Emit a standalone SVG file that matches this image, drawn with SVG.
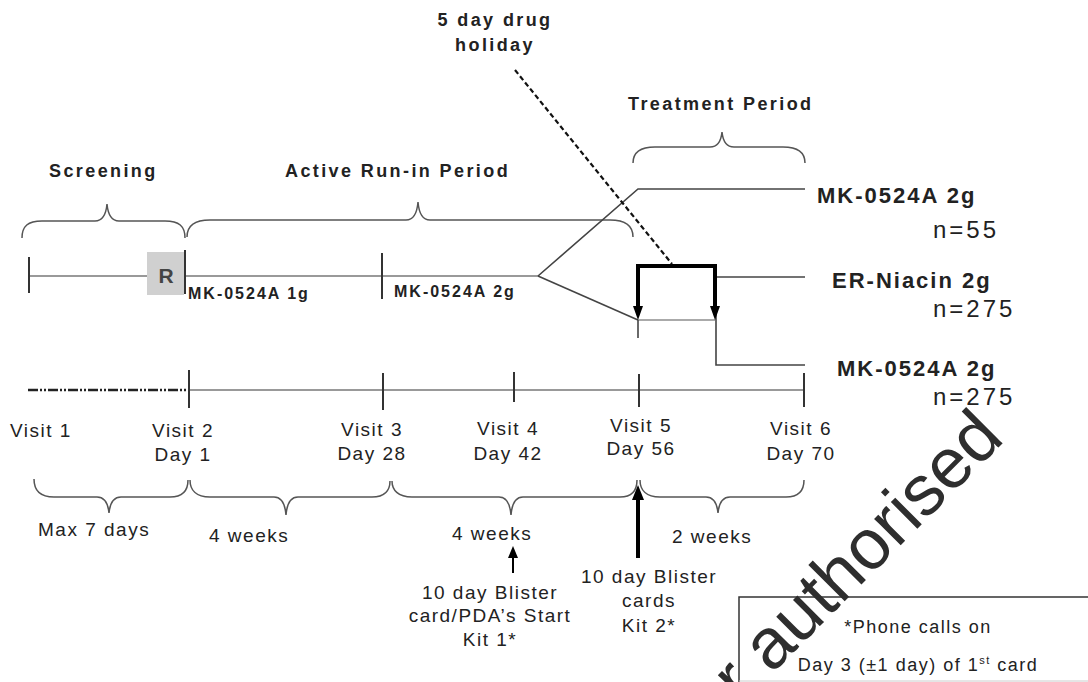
<svg xmlns="http://www.w3.org/2000/svg" width="1088" height="682" viewBox="0 0 1088 682">
<style>
text{font-family:"Liberation Sans",Arial,sans-serif;fill:#222}
.b{font-weight:bold;font-size:18px;letter-spacing:2.4px}
.bl{font-weight:bold;font-size:22px;letter-spacing:2px}
.sb{font-weight:bold;font-size:16px;letter-spacing:2px}
.n{font-size:24px;letter-spacing:3px}
.r{font-size:19px;letter-spacing:1.5px}
.c{text-anchor:middle}
.brace{fill:none;stroke:#555;stroke-width:1.5}
.tl{stroke:#999;stroke-width:2;fill:none}
.tk{stroke:#333;stroke-width:2;fill:none}
.ln{stroke:#444;stroke-width:1.6;fill:none}
.thick{stroke:#000;stroke-width:4;fill:none}
.ah{fill:#000}
.wm{font-size:71px;fill:#2e2e2e}
</style>
<rect width="1088" height="682" fill="#fff"/>

<g id="labels-top">
<text class="b c" x="495" y="26">5 day drug</text>
<text class="b c" x="495" y="51">holiday</text>
<text class="b" x="628" y="110">Treatment Period</text>
<text class="b" x="49" y="177">Screening</text>
<text class="b" x="285" y="177">Active Run-in Period</text>
</g>

<g id="braces">
<path class="brace" d="M22,238 C22,226 28,221 42,221 H95 C102,221 106,215 107,204 C108,215 112,221 119,221 H165 C179,221 185,226 185,238"/>
<path class="brace" d="M187,237 C187,226 195,220 210,220 H406 C413,220 417,214 418,202 C419,214 423,220 430,220 H610 C625,220 633,226 633,237"/>
<path class="brace" d="M633,163 C633,152 640,147 655,147 H710 C717,147 721,142 722,132 C723,142 727,147 734,147 H783 C798,147 805,152 805,163"/>
<path class="brace" d="M34,479 C34,490 40,497 54,497 H97 C104,497 108,503 109,513 C110,503 114,497 121,497 H170 C183,497 188,490 188,480"/>
<path class="brace" d="M190,480 C190,490 196,497 210,497 H274 C281,497 285,503 286,515 C287,503 291,497 298,497 H372 C385,497 390,490 390,481"/>
<path class="brace" d="M392,481 C392,490 398,497 412,497 H499 C506,497 510,503 511,515 C512,503 516,497 523,497 H620 C632,497 637,490 637,480"/>
<path class="brace" d="M640,480 C640,490 646,497 660,497 H706 C713,497 717,503 718,513 C719,503 723,497 730,497 H786 C799,497 804,490 804,480"/>
</g>

<g id="connectors">
<line class="tl" x1="28" y1="276" x2="538" y2="276"/>
<line class="tk" x1="29" y1="257" x2="29" y2="293"/>
<line class="tk" x1="382" y1="253" x2="382" y2="299"/>
<path class="ln" d="M538,276 L638,189 H805"/>
<path class="ln" d="M538,276 L638,320"/>
<line x1="638" y1="320" x2="715" y2="320" stroke="#aaa" stroke-width="2"/>
<line class="ln" x1="638" y1="320" x2="638" y2="338"/>
<path class="ln" d="M715,277 H805"/>
<path class="ln" d="M716,277 V365 H805"/>
<path class="thick" d="M638,308 V266 H715 V308"/>
<polygon class="ah" points="633,306 643,306 638,320"/>
<polygon class="ah" points="710,306 720,306 715,320"/>
<line x1="515" y1="70" x2="672" y2="264" stroke="#111" stroke-width="2.2" stroke-dasharray="5 3"/>
<line x1="28" y1="390" x2="187" y2="390" stroke="#222" stroke-width="2.5" stroke-dasharray="10 2 2 2 2 2"/>
<line class="tl" x1="189" y1="390" x2="805" y2="390" stroke="#777"/>
<line class="tk" x1="189" y1="370" x2="189" y2="408" stroke="#555"/>
<line class="tk" x1="383" y1="373" x2="383" y2="410" stroke="#555"/>
<line class="tk" x1="514" y1="372" x2="514" y2="402" stroke="#555"/>
<line class="tk" x1="639" y1="374" x2="639" y2="407" stroke="#555"/>
<line class="tk" x1="804" y1="373" x2="804" y2="407" stroke="#555"/>
<line x1="513" y1="573" x2="513" y2="556" stroke="#000" stroke-width="2"/>
<polygon class="ah" points="508,558 518,558 513,546"/>
<line x1="638" y1="558" x2="638" y2="498" stroke="#000" stroke-width="4"/>
<polygon class="ah" points="632,500 644,500 638,485"/>
</g>

<g id="randomisation">
<rect x="147" y="252" width="37" height="43" fill="#d0d0d0"/>
<text x="166" y="283" class="c" style="font-weight:bold;font-size:21px;fill:#444">R</text>
<line class="tk" x1="185" y1="250" x2="185" y2="294"/>
</g>

<g id="doses">
<text class="sb" x="188" y="299">MK-0524A 1g</text>
<text class="sb" x="394" y="297">MK-0524A 2g</text>
</g>

<g id="arms">
<text class="bl" x="817" y="203">MK-0524A 2g</text>
<text class="n" x="933" y="238">n=55</text>
<text class="bl" x="832" y="288">ER-Niacin 2g</text>
<text class="n" x="933" y="317">n=275</text>
<text class="bl" x="837" y="376">MK-0524A 2g</text>
<text class="n" x="933" y="405">n=275</text>
</g>

<g id="visits">
<text class="r" x="10" y="437">Visit 1</text>
<text class="r c" x="183" y="437">Visit 2</text>
<text class="r c" x="183" y="461">Day 1</text>
<text class="r c" x="372" y="436">Visit 3</text>
<text class="r c" x="372" y="460">Day 28</text>
<text class="r c" x="508" y="435">Visit 4</text>
<text class="r c" x="508" y="460">Day 42</text>
<text class="r c" x="641" y="432">Visit 5</text>
<text class="r c" x="641" y="455">Day 56</text>
<text class="r c" x="801" y="435">Visit 6</text>
<text class="r c" x="801" y="460">Day 70</text>
</g>

<g id="durations">
<text class="r" x="38" y="536">Max 7 days</text>
<text class="r" x="209" y="542">4 weeks</text>
<text class="r" x="452" y="540">4 weeks</text>
<text class="r" x="672" y="543">2 weeks</text>
</g>

<g id="kit1">
<text class="r c" x="490" y="599">10 day Blister</text>
<text class="r c" x="490" y="622">card/PDA’s Start</text>
<text class="r c" x="490" y="646">Kit 1*</text>
</g>
<g id="kit2">
<text class="r c" x="649" y="583">10 day Blister</text>
<text class="r c" x="649" y="607">cards</text>
<text class="r c" x="649" y="632">Kit 2*</text>
</g>

<g id="note">
<path d="M1088,597 H739 V682" fill="none" stroke="#333" stroke-width="1.5"/>
<line x1="739" y1="681" x2="1088" y2="681" stroke="#ccc" stroke-width="1"/>
<text class="r c" x="918" y="633" style="font-size:18px">*Phone calls on</text>
<text class="r c" x="918" y="671" style="font-size:18px">Day 3 (±1 day) of 1<tspan dy="-7" style="font-size:11px">st</tspan><tspan dy="7"> card</tspan></text>
</g>

<g id="watermark">
<text class="wm" x="1006" y="440" text-anchor="end" transform="rotate(-45 1006 440)">or authorised</text>
</g>
</svg>
